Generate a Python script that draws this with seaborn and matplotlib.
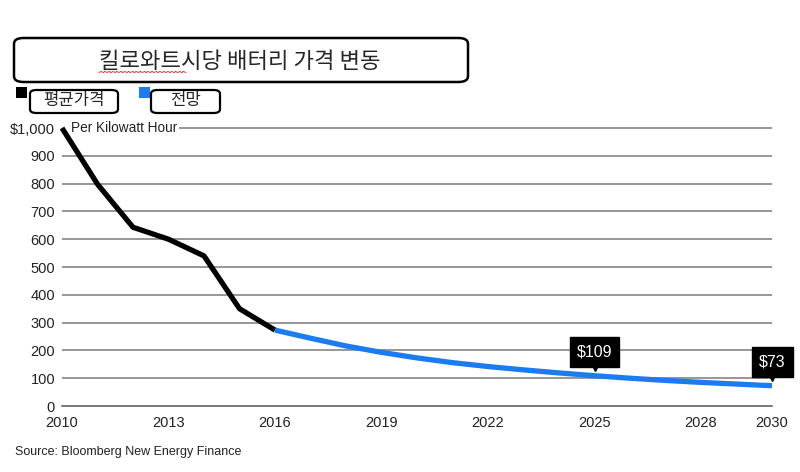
import numpy as np
import pandas as pd
import matplotlib.pyplot as plt
import matplotlib.transforms as mtransforms
import seaborn as sns
from matplotlib.patches import FancyBboxPatch, Rectangle
from matplotlib.lines import Line2D

# battery pack price, $ per kWh
hist_years = [2010, 2011, 2012, 2013, 2014, 2015, 2016]
hist_price = [1000, 798, 643, 600, 540, 350, 273]
fcst_years = [2016, 2017, 2018, 2019, 2020, 2021, 2022, 2023, 2024, 2025, 2026, 2027, 2028, 2029, 2030]
fcst_price = [273, 244, 216, 193, 173, 156, 142, 130, 119, 109, 100, 92, 85, 79, 73]
x_ticks = [2010, 2013, 2016, 2019, 2022, 2025, 2028, 2030]
y_ticks = [0, 100, 200, 300, 400, 500, 600, 700, 800, 900, 1000]
y_labels = ["0", "100", "200", "300", "400", "500", "600", "700", "800", "900", "$1,000"]
callouts = {2025: "$109", 2030: "$73"}

sns.set_theme(style="white")
plt.rcParams["font.family"] = ["Liberation Sans", "Noto Sans CJK KR", "DejaVu Sans"]
kr_font = ["Noto Sans CJK KR", "DejaVu Sans"]

df = pd.concat([
    pd.DataFrame({"year": hist_years, "price": hist_price, "kind": "평균가격"}),
    pd.DataFrame({"year": fcst_years, "price": fcst_price, "kind": "전망"}),
])

fig = plt.figure(figsize=(8, 4.72), dpi=100)
ax = fig.add_axes([0.0775, 0.1398, 0.8875, 0.589])

for y in y_ticks[1:]:
    xstart = 2010 if y < 1000 else 2013.3
    ax.plot([xstart, 2030], [y, y], color="#7a7a7a", lw=1.1, zorder=1)

sns.lineplot(data=df, x="year", y="price", hue="kind",
             palette={"평균가격": "black", "전망": "#1a7cf0"},
             linewidth=3.8, legend=False, ax=ax, zorder=3)
for line in ax.lines:
    line.set_clip_on(False)
    line.set_solid_capstyle("butt")

ax.set_xlim(2010, 2030)
ax.set_ylim(0, 1000)
ax.set_xticks(x_ticks)
ax.set_xticklabels([str(t) for t in x_ticks], fontsize=10.5, color="#222")
ax.set_yticks(y_ticks)
ax.set_yticklabels(y_labels, fontsize=10.5, color="#222")
ax.tick_params(axis="x", direction="out", length=5, width=1, color="#555", pad=2)
ax.tick_params(axis="y", length=0, pad=5)
for s in ["top", "right", "left"]:
    ax.spines[s].set_visible(False)
ax.spines["bottom"].set_color("#555")
ax.spines["bottom"].set_linewidth(1.1)
ax.set_xlabel("")
ax.set_ylabel("")

ax.text(2010.25, 1000, "Per Kilowatt Hour", fontsize=9.8, color="#222",
        va="center", ha="left")

# value callouts: black box with a small pointer down to the line
price_lookup = dict(zip(fcst_years, fcst_price))
for yr, label in callouts.items():
    val = price_lookup[yr]
    ax.annotate(label, xy=(yr, val), xytext=(0, 17), textcoords="offset points",
                ha="center", va="center", color="white", fontsize=11.5,
                bbox=dict(boxstyle="square,pad=0.45", fc="black", ec="black"),
                annotation_clip=False, zorder=6)
    tri = mtransforms.offset_copy(ax.transData, fig=fig, x=0, y=6, units="points")
    ax.plot([yr], [val], marker="v", markersize=6, color="black",
            transform=tri, clip_on=False, zorder=6)

# title box
fig.patches.append(FancyBboxPatch((14 / 800, 1 - 82 / 472), 454 / 800, 44 / 472,
                                  boxstyle="round,pad=0,rounding_size=0.012",
                                  transform=fig.transFigure, fc="white", ec="black", lw=1.8))
fig.text(240 / 800, 1 - 61 / 472, "킬로와트시당 배터리 가격 변동", fontsize=16,
         ha="center", va="center", family=kr_font)
# spell-check squiggle under the first word
wx = np.linspace(99, 186, 60)
wy = 72 + 0.8 * np.sin(wx * 1.6)
fig.lines.append(Line2D(wx / 800, 1 - wy / 472, transform=fig.transFigure,
                        color="#d04040", lw=0.7))

# legend boxes
legend_items = [("평균가격", "black", 16, 30, 88), ("전망", "#1a7cf0", 139, 151, 69)]
for label, col, sq_x, box_x, box_w in legend_items:
    fig.patches.append(Rectangle((sq_x / 800, 1 - 98 / 472), 11 / 800, 11 / 472,
                                 transform=fig.transFigure, fc=col, ec="none"))
    fig.patches.append(FancyBboxPatch((box_x / 800, 1 - 113 / 472), box_w / 800, 23 / 472,
                                      boxstyle="round,pad=0,rounding_size=0.008",
                                      transform=fig.transFigure, fc="white", ec="black", lw=1.6))
    fig.text((box_x + box_w / 2) / 800, 1 - 101 / 472, label, fontsize=12,
             ha="center", va="center", family=kr_font)

fig.text(15 / 800, 1 - 452 / 472, "Source: Bloomberg New Energy Finance",
         fontsize=9, ha="left", va="center", color="#222")

fig.savefig("out.png", dpi=100)
